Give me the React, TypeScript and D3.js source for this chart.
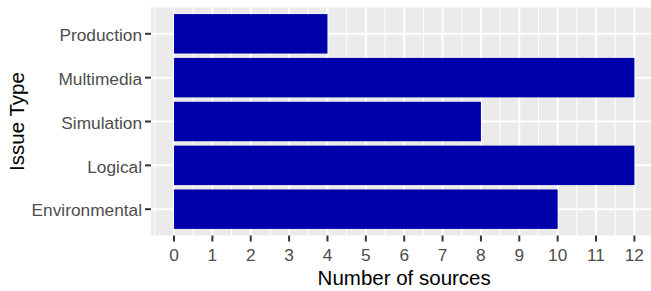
import React from "react";
import * as d3 from "d3";

const categories = ["Environmental", "Logical", "Simulation", "Multimedia", "Production"];
const values = [10, 12, 8, 12, 4];
const xTicks = [0, 1, 2, 3, 4, 5, 6, 7, 8, 9, 10, 11, 12];
const xTitle = "Number of sources";
const yTitle = "Issue Type";

const W = 651;
const H = 291;
const panel = { left: 151, right: 657.4, top: 7.5, bottom: 235.5 };

export default function App() {
  const x = d3.scaleLinear().domain([-0.6, 12.6]).range([panel.left, panel.right]);
  const y = d3.scaleLinear().domain([0.4, categories.length + 0.6]).range([panel.bottom, panel.top]);
  const minor = d3.range(-0.5, 12.6, 1);
  const font = "'Liberation Sans', Arial, sans-serif";
  return (
    <svg width={W} height={H} style={{ position: "absolute", left: 0, top: 0 }}>
      <rect x={0} y={0} width={W} height={H} fill="#ffffff" />
      <rect x={panel.left} y={panel.top} width={panel.right - panel.left} height={panel.bottom - panel.top} fill="#EBEBEB" />
      {minor.map((v) => (
        <line key={"mn" + v} x1={x(v)} x2={x(v)} y1={panel.top} y2={panel.bottom} stroke="#fff" strokeWidth={1} />
      ))}
      {xTicks.map((v) => (
        <line key={"mj" + v} x1={x(v)} x2={x(v)} y1={panel.top} y2={panel.bottom} stroke="#fff" strokeWidth={2} />
      ))}
      {categories.map((c, i) => (
        <line key={"hy" + c} x1={panel.left} x2={panel.right} y1={y(i + 1)} y2={y(i + 1)} stroke="#fff" strokeWidth={2} />
      ))}
      {categories.map((c, i) => (
        <rect
          key={"b" + c}
          x={x(0)}
          y={y(i + 1 + 0.45)}
          width={x(values[i]) - x(0)}
          height={y(i + 1 - 0.45) - y(i + 1 + 0.45)}
          fill="#0000AA"
        />
      ))}
      {xTicks.map((v) => (
        <g key={"xt" + v}>
          <line x1={x(v)} x2={x(v)} y1={panel.bottom} y2={panel.bottom + 6} stroke="#333" strokeWidth={2} />
          <text x={x(v)} y={261} textAnchor="middle" fontFamily={font} fontSize={17.3} fill="#4D4D4D">
            {v}
          </text>
        </g>
      ))}
      {categories.map((c, i) => (
        <g key={"yt" + c}>
          <line x1={panel.left - 6} x2={panel.left} y1={y(i + 1)} y2={y(i + 1)} stroke="#333" strokeWidth={2} />
          <text x={142} y={y(i + 1) + 7.3} textAnchor="end" fontFamily={font} fontSize={17.3} fill="#4D4D4D">
            {c}
          </text>
        </g>
      ))}
      <text x={(panel.left + panel.right) / 2} y={284.5} textAnchor="middle" fontFamily={font} fontSize={20.5} fill="#000">
        {xTitle}
      </text>
      <text
        transform={`translate(24,${(panel.top + panel.bottom) / 2}) rotate(-90)`}
        textAnchor="middle"
        fontFamily={font}
        fontSize={20.5}
        fill="#000"
      >
        {yTitle}
      </text>
    </svg>
  );
}
